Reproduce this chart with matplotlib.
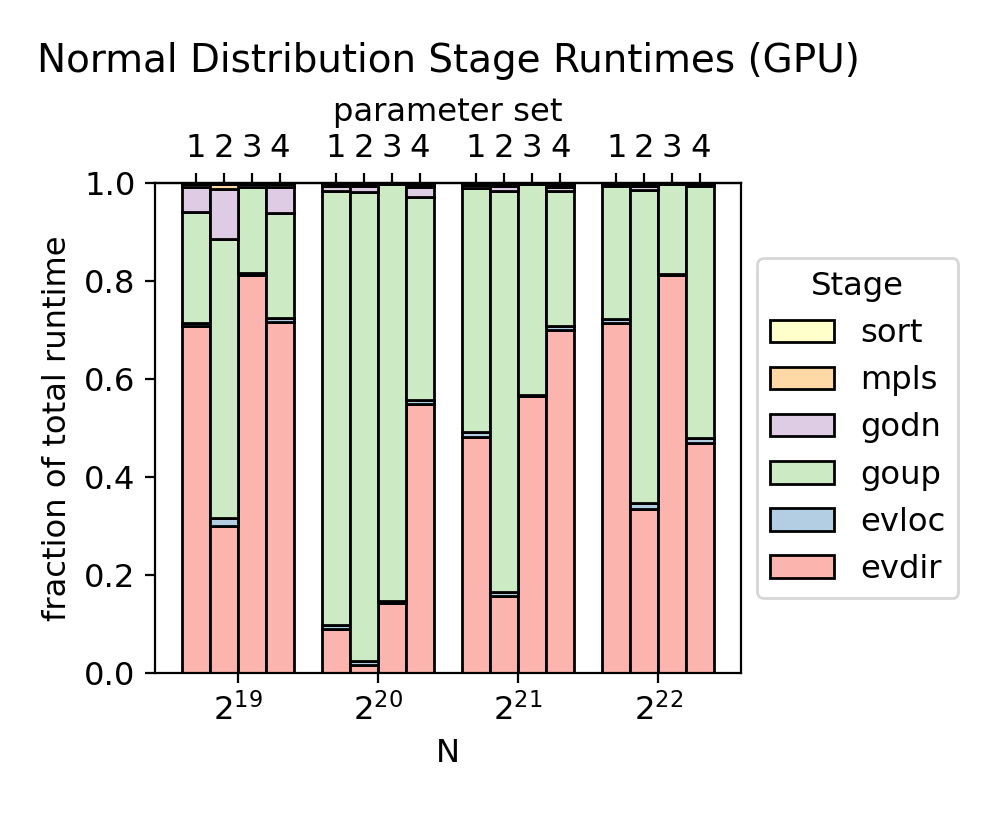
import matplotlib
matplotlib.use("Agg")
import matplotlib.pyplot as plt
import numpy as np

plt.rcParams["font.size"] = 11.6

# problem sizes (exponent of 2) and parameter sets
n_exps = [19, 20, 21, 22]
param_sets = ["1", "2", "3", "4"]

# stage fractions, ordered N=2^19 sets 1-4, N=2^20 sets 1-4, ...
evdir = [0.708, 0.300, 0.812, 0.716,
         0.089, 0.017, 0.143, 0.549,
         0.482, 0.157, 0.565, 0.700,
         0.714, 0.335, 0.812, 0.470]
evloc = [0.006, 0.016, 0.004, 0.008,
         0.008, 0.008, 0.004, 0.008,
         0.009, 0.009, 0.003, 0.008,
         0.008, 0.012, 0.003, 0.009]
goup = [0.227, 0.570, 0.176, 0.215,
        0.887, 0.957, 0.851, 0.414,
        0.499, 0.817, 0.430, 0.276,
        0.271, 0.639, 0.183, 0.515]
godn = [0.050, 0.102, 0.005, 0.052,
        0.010, 0.012, 0.001, 0.020,
        0.005, 0.010, 0.001, 0.008,
        0.004, 0.008, 0.001, 0.003]
mpls = [0.006, 0.009, 0.002, 0.006,
        0.004, 0.003, 0.0005, 0.005,
        0.003, 0.004, 0.0005, 0.004,
        0.002, 0.003, 0.0005, 0.002]
sort = [0.003, 0.003, 0.001, 0.003,
        0.002, 0.003, 0.0005, 0.004,
        0.002, 0.003, 0.0005, 0.004,
        0.001, 0.003, 0.0005, 0.001]

stages = ["evdir", "evloc", "goup", "godn", "mpls", "sort"]
stage_data = [evdir, evloc, goup, godn, mpls, sort]

colors = plt.get_cmap("Pastel1").colors

fig = plt.figure(figsize=(4.985, 4.105), dpi=200)
ax = fig.add_axes([0.1555, 0.1803, 0.5877, 0.5968])

width = 0.2
n_sets = len(param_sets)
offsets = (np.arange(n_sets) - (n_sets - 1) / 2) * width
xpos = np.concatenate([g + offsets for g in range(len(n_exps))])

bottom = np.zeros(len(xpos))
for i, (name, vals) in enumerate(zip(stages, stage_data)):
    vals = np.array(vals)
    ax.bar(xpos, vals, width, bottom=bottom, color=colors[i],
           edgecolor="black", label=name)
    bottom += vals

ax.set_ylim(0, 1)
ax.set_xticks(range(len(n_exps)))
ax.set_xticklabels([f"$2^{{{e}}}$" for e in n_exps])
ax.set_xlabel("N")
ax.set_ylabel("fraction of total runtime")

sec = ax.secondary_xaxis("top")
sec.set_xticks(xpos)
sec.set_xticklabels(param_sets * len(n_exps))
sec.set_xlabel("parameter set")

handles, labels = ax.get_legend_handles_labels()
ax.legend(handles[::-1], labels[::-1], title="Stage",
          loc="center left", bbox_to_anchor=(1.0, 0.5))

ax.set_title("Normal Distribution Stage Runtimes (GPU)", fontsize=14, pad=9)

fig.savefig("out.png", dpi=200)
